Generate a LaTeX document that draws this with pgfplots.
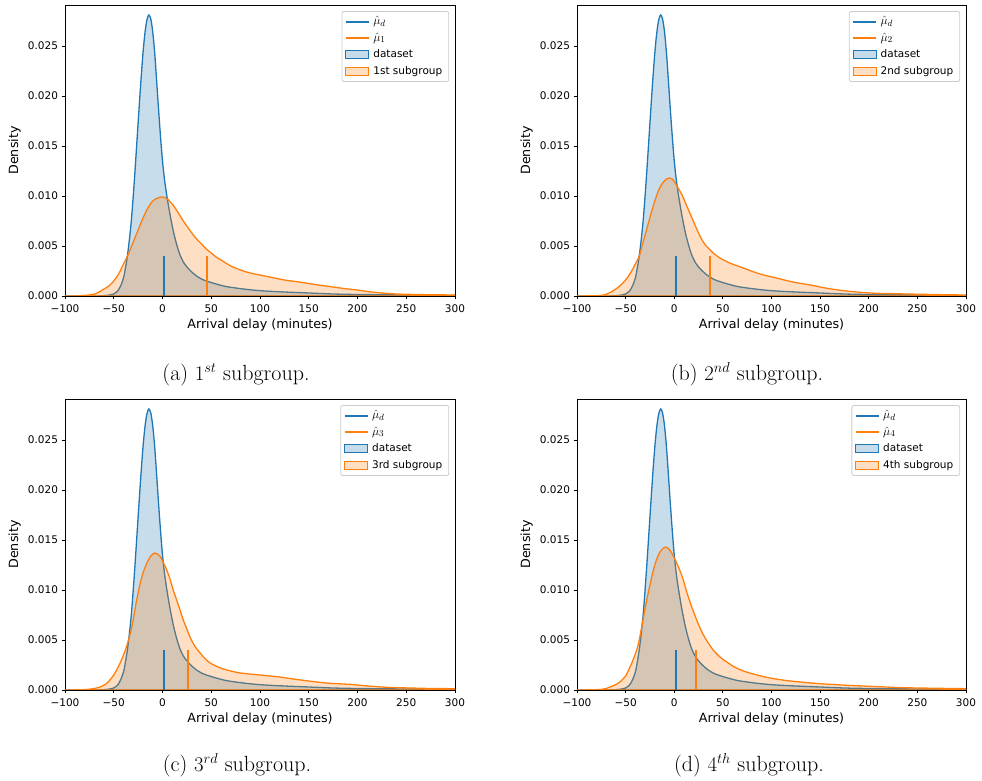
\documentclass[border=0pt]{standalone}
\usepackage{fontspec}
\usepackage{pgfplots}
\pgfplotsset{compat=1.18}
\usepackage{pgfplotstable}
\newfontfamily\djv{DejaVu Sans}
\definecolor{tabblue}{RGB}{31,119,180}
\definecolor{taborange}{RGB}{255,127,14}
\definecolor{leggray}{RGB}{204,204,204}

\pgfplotstableread{
x y
-100 0
-80 0
-65 0.00001
-58 0.00005
-53 0.00012
-50 0.0002
-46 0.0005
-43 0.0010
-40 0.0018
-38 0.0028
-36 0.0040
-34 0.0056
-32 0.0075
-30 0.0100
-28 0.0128
-26 0.0158
-24 0.0188
-22 0.0217
-20 0.0243
-18 0.0263
-16 0.0276
-14 0.0281
-12 0.0277
-10 0.0264
-8 0.0243
-6 0.0215
-4 0.0186
-2 0.0159
0 0.0135
2 0.0117
4 0.0103
6 0.0091
8 0.0080
10 0.0070
12 0.0061
15 0.0050
18 0.0041
22 0.0033
26 0.0028
30 0.0024
35 0.0020
40 0.0017
45 0.0015
55 0.0012
65 0.00095
75 0.0008
90 0.00062
105 0.0005
125 0.0004
150 0.0003
175 0.0002
200 0.00015
250 0.0001
300 0.00005
}\dataset

\pgfplotstableread{
x y
-100 0
-90 0
-85 0.00003
-80 0.00006
-75 0.0001
-70 0.00018
-65 0.0004
-60 0.0007
-55 0.0010
-50 0.0015
-45 0.0022
-40 0.0032
-35 0.0042
-30 0.0054
-25 0.0066
-20 0.0078
-15 0.0088
-10 0.0095
-5 0.0098
0 0.0099
5 0.0097
10 0.0092
15 0.0085
20 0.0077
25 0.0070
30 0.0063
35 0.0057
40 0.0052
45 0.0047
50 0.0043
55 0.0039
60 0.0036
70 0.0030
80 0.0026
90 0.0023
100 0.0021
110 0.0019
125 0.0016
140 0.0014
160 0.0011
175 0.0009
190 0.0007
200 0.0006
210 0.00045
225 0.0003
240 0.0002
260 0.00015
280 0.00012
300 0.0001
}\orangeA

\pgfplotstableread{
x y
-100 0
-85 0.00002
-78 0.00005
-72 0.0001
-65 0.0004
-60 0.0007
-55 0.0011
-50 0.0016
-45 0.0023
-40 0.0032
-36 0.0040
-32 0.0054
-28 0.0068
-24 0.0082
-20 0.0095
-16 0.0106
-12 0.0113
-8 0.0117
-5 0.0118
-2 0.0117
1 0.0113
4 0.0108
8 0.0101
12 0.0092
16 0.0083
20 0.0074
24 0.0065
28 0.0057
32 0.0051
36 0.0047
40 0.0043
47 0.0038
57 0.0033
71 0.0028
88 0.0022
105 0.0018
122 0.0014
140 0.0011
157 0.00077
174 0.00053
191 0.00037
208 0.00027
240 0.0002
275 0.00013
300 0.0001
}\orangeB

\pgfplotstableread{
x y
-100 0
-85 0.00002
-78 0.00005
-70 0.00015
-64 0.0003
-58 0.0006
-54 0.0010
-50 0.0015
-46 0.0022
-43 0.0028
-40 0.0035
-37 0.0043
-34 0.0053
-31.5 0.0063
-29 0.0076
-26.5 0.0090
-23 0.0106
-20 0.0117
-16 0.0127
-12 0.0134
-8 0.0137
-5 0.0136
-2 0.0133
1 0.0127
4 0.0121
8 0.0110
11 0.0100
14.5 0.0090
18 0.0080
21.3 0.0070
25 0.0061
28.2 0.0053
33 0.0044
38.5 0.0037
44 0.0031
49 0.0027
57 0.0023
66 0.0020
80 0.0017
100 0.0015
120 0.0013
134 0.0011
150 0.0009
168 0.0007
185 0.0006
195 0.00055
205 0.00045
220 0.00033
235 0.00025
254 0.0002
275 0.00015
300 0.00013
}\orangeC

\pgfplotstableread{
x y
-100 0
-85 0.00002
-76 0.00005
-70 0.00015
-66 0.0003
-61 0.0005
-56 0.0008
-50 0.0014
-45.5 0.0023
-42 0.0031
-38.6 0.0040
-36 0.0050
-33.5 0.0063
-31 0.0076
-28.3 0.0090
-25 0.0105
-21.5 0.0120
-18 0.0131
-14.7 0.0138
-11 0.0142
-8.5 0.0143
-5.5 0.0141
-2.6 0.0137
0 0.0132
2.5 0.0127
6 0.0119
9.3 0.0110
12.5 0.0099
16.2 0.0088
19.5 0.0079
23.1 0.0070
26.5 0.0062
30 0.0055
35 0.0047
40 0.0040
47 0.0033
54 0.0028
62 0.0023
71 0.0019
85 0.0015
98.5 0.0012
115 0.00095
133 0.00077
150 0.00063
167 0.00053
184 0.00044
201 0.00037
218 0.0003
235 0.00023
270 0.00017
300 0.00013
}\orangeD

\pgfplotsset{
 lineleg/.style={legend image code/.code={\draw[line width=1.8pt,#1] (0pt,0pt) -- (23pt,0pt);}},
 patchleg/.style={legend image code/.code={\draw[sharp corners,line width=1pt,draw=#1,fill=#1,fill opacity=0.25] (0pt,-4pt) rectangle (23pt,4pt);}},
 panel/.style={
  scale only axis, width=390pt, height=291pt,
  xmin=-100, xmax=300, ymin=0, ymax=0.0291,
  scaled x ticks=false, scaled y ticks=false,
  axis line style={line width=0.8pt},
  xtick={-100,-50,0,50,100,150,200,250,300},
  xticklabels={−100,−50,0,50,100,150,200,250,300},
  ytick={0,0.005,0.01,0.015,0.02,0.025},
  yticklabels={0.000,0.005,0.010,0.015,0.020,0.025},
  tick align=outside, tick pos=left,
  major tick length=3.5pt,
  every tick/.style={black, line width=0.8pt},
  tick label style={font=\djv\fontsize{10.5}{12}\selectfont},
  xticklabel style={yshift=-2pt},
  label style={font=\djv\fontsize{12.7}{15}\selectfont},
  xlabel={Arrival delay (minutes)},
  ylabel={Density},
  xlabel style={at={([yshift=-33pt]axis description cs:0.5,0)}, anchor=base, inner sep=0pt},
  ylabel style={at={([xshift=-47pt]axis description cs:0,0.5)}, anchor=base, inner sep=0pt},
  legend cell align=left,
  legend style={at={(rel axis cs:0.985,0.979)}, anchor=north east, draw=leggray,
    line width=0.8pt, rounded corners=2pt, fill=white, fill opacity=0.8, text opacity=1,
    font=\djv\fontsize{10.5}{12}\selectfont, row sep=0pt, inner xsep=3pt, inner ysep=2pt,
    nodes={inner xsep=3.5pt, inner ysep=1.5pt, text height=9.5pt, text depth=4pt}},
 },
 bluefill/.style={tabblue, line width=1.3pt, fill=tabblue, fill opacity=0.25, smooth, tension=0.5, forget plot},
 orangefill/.style={taborange, line width=1.3pt, fill=taborange, fill opacity=0.25, smooth, tension=0.5, forget plot},
 meanline/.style={#1, line width=2pt, forget plot},
}
\newcommand\mh[1]{{\fontsize{12.5}{14}\selectfont$\hat{\mu}_{#1}$}}

\begin{document}
\begin{tikzpicture}
\useasboundingbox (0pt,0pt) rectangle (982pt,781pt);

% (a)
\begin{axis}[panel, at={(65pt,485pt)}, anchor=south west]
\addplot[bluefill] table[x=x,y=y] {\dataset} \closedcycle;
\addplot[orangefill] table[x=x,y=y] {\orangeA} \closedcycle;
\addplot[meanline=tabblue] coordinates {(1.6,0) (1.6,0.004)};
\addplot[meanline=taborange] coordinates {(45.3,0) (45.3,0.004)};
\addlegendimage{lineleg=tabblue}\addlegendentry{\mh{d}}
\addlegendimage{lineleg=taborange}\addlegendentry{\mh{1}}
\addlegendimage{patchleg=tabblue}\addlegendentry{dataset}
\addlegendimage{patchleg=taborange}\addlegendentry{1st subgroup}
\end{axis}

% (b)
\begin{axis}[panel, width=389pt, at={(577pt,485pt)}, anchor=south west]
\addplot[bluefill] table[x=x,y=y] {\dataset} \closedcycle;
\addplot[orangefill] table[x=x,y=y] {\orangeB} \closedcycle;
\addplot[meanline=tabblue] coordinates {(1.6,0) (1.6,0.004)};
\addplot[meanline=taborange] coordinates {(36.3,0) (36.3,0.004)};
\addlegendimage{lineleg=tabblue}\addlegendentry{\mh{d}}
\addlegendimage{lineleg=taborange}\addlegendentry{\mh{2}}
\addlegendimage{patchleg=tabblue}\addlegendentry{dataset}
\addlegendimage{patchleg=taborange}\addlegendentry{2nd subgroup}
\end{axis}

% (c)
\begin{axis}[panel, at={(65pt,91pt)}, anchor=south west]
\addplot[bluefill] table[x=x,y=y] {\dataset} \closedcycle;
\addplot[orangefill] table[x=x,y=y] {\orangeC} \closedcycle;
\addplot[meanline=tabblue] coordinates {(1.6,0) (1.6,0.004)};
\addplot[meanline=taborange] coordinates {(26.5,0) (26.5,0.004)};
\addlegendimage{lineleg=tabblue}\addlegendentry{\mh{d}}
\addlegendimage{lineleg=taborange}\addlegendentry{\mh{3}}
\addlegendimage{patchleg=tabblue}\addlegendentry{dataset}
\addlegendimage{patchleg=taborange}\addlegendentry{3rd subgroup}
\end{axis}

% (d)
\begin{axis}[panel, width=389pt, at={(577pt,91pt)}, anchor=south west]
\addplot[bluefill] table[x=x,y=y] {\dataset} \closedcycle;
\addplot[orangefill] table[x=x,y=y] {\orangeD} \closedcycle;
\addplot[meanline=tabblue] coordinates {(1.6,0) (1.6,0.004)};
\addplot[meanline=taborange] coordinates {(22.5,0) (22.5,0.004)};
\addlegendimage{lineleg=tabblue}\addlegendentry{\mh{d}}
\addlegendimage{lineleg=taborange}\addlegendentry{\mh{4}}
\addlegendimage{patchleg=tabblue}\addlegendentry{dataset}
\addlegendimage{patchleg=taborange}\addlegendentry{4th subgroup}
\end{axis}

\node[anchor=base, inner sep=0pt, font=\fontsize{22}{26}\selectfont] at (236pt,400.5pt) {(a) $1^{st}$ subgroup.};
\node[anchor=base, inner sep=0pt, font=\fontsize{22}{26}\selectfont] at (747pt,400.5pt) {(b) $2^{nd}$ subgroup.};
\node[anchor=base, inner sep=0pt, font=\fontsize{22}{26}\selectfont] at (237pt,9.5pt) {(c) $3^{rd}$ subgroup.};
\node[anchor=base, inner sep=0pt, font=\fontsize{22}{26}\selectfont] at (749pt,9.5pt) {(d) $4^{th}$ subgroup.};
\end{tikzpicture}
\end{document}
